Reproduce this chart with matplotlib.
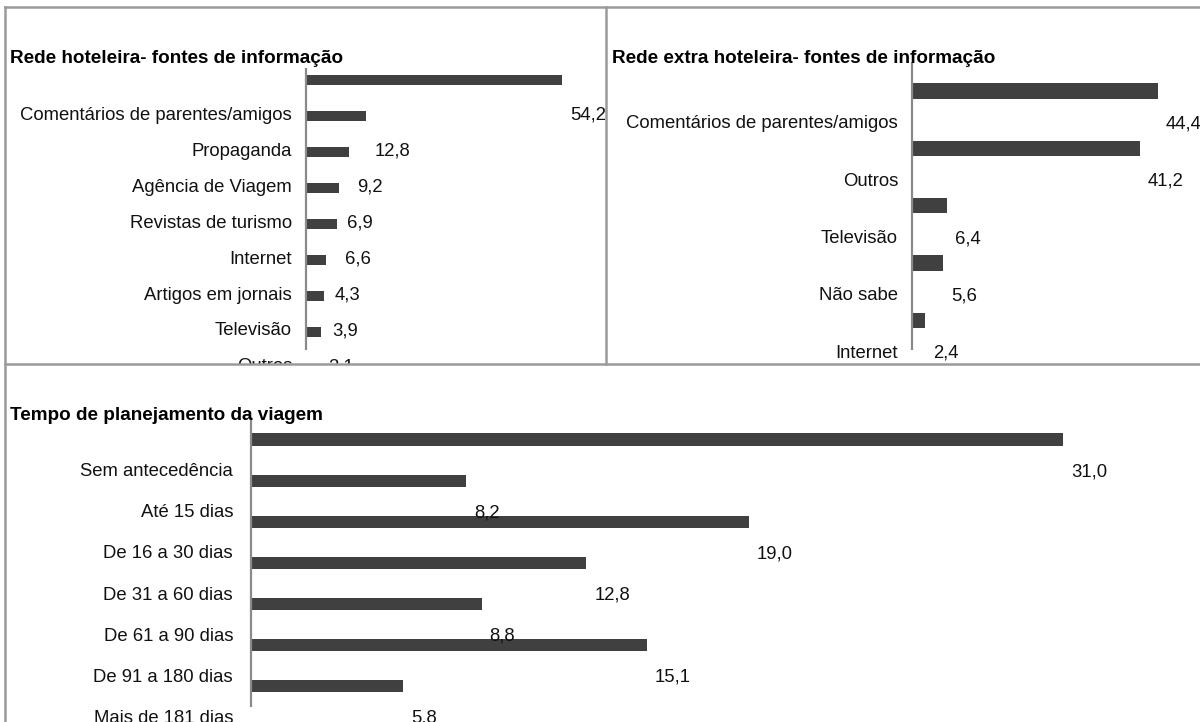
import numpy as np
import matplotlib
matplotlib.use("Agg")
import matplotlib.pyplot as plt
from matplotlib.lines import Line2D
from matplotlib.transforms import offset_copy

plt.rcParams['font.family'] = ['Liberation Sans', 'DejaVu Sans']

# Rede hoteleira
hotel_labels = ["Comentários de parentes/amigos", "Propaganda", "Agência de Viagem",
                "Revistas de turismo", "Internet", "Artigos em jornais",
                "Televisão", "Outros"]
hotel_values = [54.2, 12.8, 9.2, 6.9, 6.6, 4.3, 3.9, 3.1]

# Rede extra hoteleira
extra_labels = ["Comentários de parentes/amigos", "Outros", "Televisão",
                "Não sabe", "Internet"]
extra_values = [44.4, 41.2, 6.4, 5.6, 2.4]

# Tempo de planejamento
tempo_labels = ["Sem antecedência", "Até 15 dias", "De 16 a 30 dias",
                "De 31 a 60 dias", "De 61 a 90 dias", "De 91 a 180 dias",
                "Mais de 181 dias"]
tempo_values = [31.0, 8.2, 19.0, 12.8, 8.8, 15.1, 5.8]

W, H = 1200, 722
BAR = '#404040'
FRAME = '#9a9a9a'
AXIS = '#8a8a8a'
FS = 13.3

fig = plt.figure(figsize=(W / 100, H / 100), dpi=100)


def box(x0, y0, x1, y1):
    return [x0 / W, 1 - y1 / H, (x1 - x0) / W, (y1 - y0) / H]


def panel(title, labels, values, frame, axis_x, scale, row0, step,
          shift, bar_h, span, title_pos, pad):
    x0, y0, x1, y1 = frame
    ax = fig.add_axes(box(x0, y0, x1, y1))
    ax.set_xlim((x0 - axis_x) / scale, (x1 - axis_x) / scale)
    ax.set_ylim((y1 - row0) / step, (y0 - row0) / step)
    ax.axis('off')

    pos = np.arange(len(values))
    ax.barh(pos + shift, values, height=bar_h, color=BAR, zorder=2)
    ax.plot([0, 0], [(span[0] - row0) / step, (span[1] - row0) / step],
            color=AXIS, lw=1.6, zorder=3, solid_capstyle='butt')

    val_tr = offset_copy(ax.transData, fig=fig, x=8, y=0, units='dots')
    for i, (lab, v) in enumerate(zip(labels, values)):
        ax.text(-pad / scale, i, lab, ha='right', va='center', fontsize=FS,
                color='#111111', clip_on=True)
        ax.text(v, i, f"{v:.1f}".replace('.', ','), transform=val_tr,
                ha='left', va='center', fontsize=FS, color='#111111',
                clip_on=True)

    fig.text(title_pos[0] / W, 1 - title_pos[1] / H, title, ha='left',
             va='baseline', fontsize=13.6, fontweight='bold', color='#000000')
    return ax


panel("Rede hoteleira- fontes de informação", hotel_labels, hotel_values,
      frame=(5, 7, 606, 364), axis_x=306, scale=4.72, row0=115, step=36.0,
      shift=-0.96, bar_h=0.28, span=(68, 350), title_pos=(10, 63), pad=14)

panel("Rede extra hoteleira- fontes de informação", extra_labels, extra_values,
      frame=(606, 7, 1200, 364), axis_x=912, scale=5.53, row0=124, step=57.3,
      shift=-0.575, bar_h=0.27, span=(62, 350), title_pos=(612, 63), pad=14)

panel("Tempo de planejamento da viagem", tempo_labels, tempo_values,
      frame=(5, 364, 1200, 722), axis_x=251, scale=26.2, row0=471.7, step=41.1,
      shift=-0.78, bar_h=0.3, span=(417, 707), title_pos=(10, 420), pad=18)

# panel frames
for xs, ys in [((5, 1200), (7, 7)), ((5, 5), (7, 722)),
               ((606, 606), (7, 364)), ((5, 1200), (364, 364))]:
    fig.add_artist(Line2D([x / W for x in xs], [1 - y / H for y in ys],
                          color=FRAME, lw=1.8, transform=fig.transFigure))

fig.savefig("out.png", dpi=100, facecolor='white')
